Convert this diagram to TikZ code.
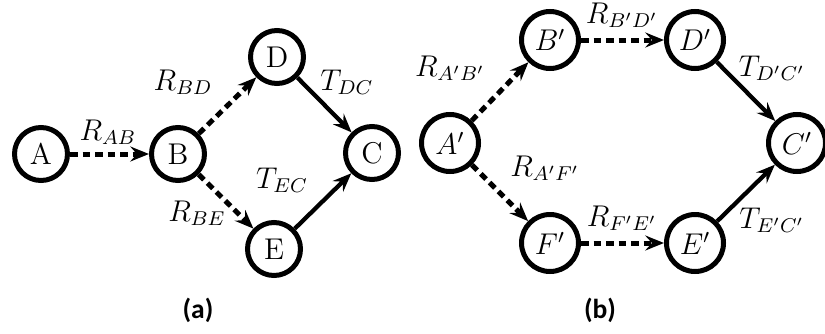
\documentclass[tikz,border=0pt]{standalone}
\usepackage{fontspec}
\usetikzlibrary{arrows.meta}
\newfontfamily\capfont{Carlito}
\begin{document}
\begin{tikzpicture}[x=0.4pt,y=-0.4pt,
  st/.style={circle,draw,line width=2pt,inner sep=0pt,minimum size=21.2pt,font=\fontsize{12}{14}\selectfont},
  stb/.style={st,minimum size=22.8pt},
  lbl/.style={inner sep=0pt,font=\fontsize{12}{14}\selectfont},
  captxt/.style={inner sep=0pt,font=\capfont\bfseries\fontsize{11}{13}\selectfont},
  dedge/.style={line width=2pt,dash pattern=on 3pt off 2pt,-{Stealth[length=7.5pt,width=6pt,inset=2.7pt]}},
  sedge/.style={line width=1.7pt,-{Stealth[length=7.5pt,width=6pt,inset=2.7pt]}}]
\useasboundingbox (0,0) rectangle (825,333);
% (a)
\node[st] (A) at (41,154) {A};
\node[st] (B) at (178,154) {B};
\node[st] (D) at (277,57) {D};
\node[st] (E) at (274,249) {E};
\node[st] (C) at (372,153) {C};
\draw[dedge] (A) -- (B);
\draw[dedge] (B) -- (D);
\draw[dedge] (B) -- (E);
\draw[sedge] (D) -- (C);
\draw[sedge] (E) -- (C);
\node[lbl] (lAB) at (108,132) {$R_{AB}$};
\node[lbl] (lBD) at (183,82) {$R_{BD}$};
\node[lbl] (lDC) at (347,82) {$T_{DC}$};
\node[lbl] (lEC) at (282,180) {$T_{EC}$};
\node[lbl] (lBE) at (197,213) {$R_{BE}$};
\node[captxt] (capa) at (198,310) {(a)};
% (b)
\node[stb] (A2) at (450,143) {$A'$};
\node[stb] (B2) at (550,40) {$B'$};
\node[stb] (D2) at (695,40) {$D'$};
\node[stb] (F2) at (550,243) {$F'$};
\node[stb] (E2) at (695,243) {$E'$};
\node[stb] (C2) at (797,143) {$C'$};
\draw[dedge] (A2) -- (B2);
\draw[dedge] (A2) -- (F2);
\draw[dedge] (B2) -- (D2);
\draw[dedge] (F2) -- (E2);
\draw[sedge] (D2) -- (C2);
\draw[sedge] (E2) -- (C2);
\node[lbl] (lA2B2) at (450,68) {$R_{A'B'}$};
\node[lbl] (lB2D2) at (622,15) {$R_{B'D'}$};
\node[lbl] (lD2C2) at (772,68) {$T_{D'C'}$};
\node[lbl] (lA2F2) at (545,168) {$R_{A'F'}$};
\node[lbl] (lF2E2) at (622,218) {$R_{F'E'}$};
\node[lbl] (lE2C2) at (772,220) {$T_{E'C'}$};
\node[captxt] (capb) at (600,310) {(b)};
\end{tikzpicture}
\end{document}
